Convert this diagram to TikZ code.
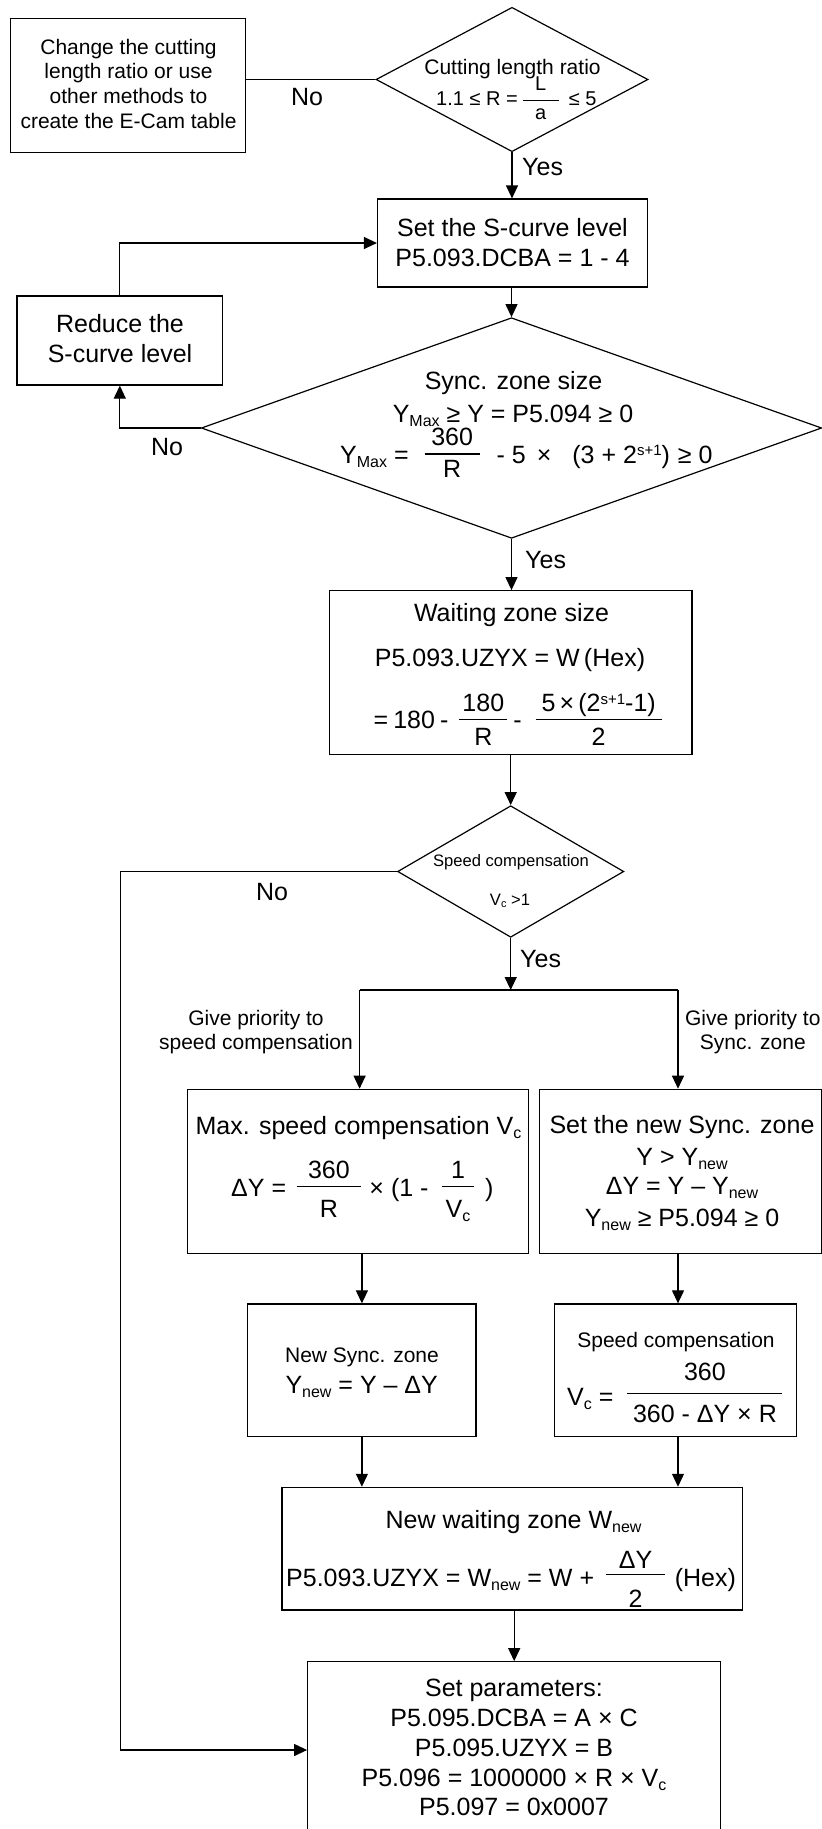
\documentclass[tikz,border=0pt]{standalone}
\usepackage{fontspec}
\setmainfont{Liberation Sans}
\usetikzlibrary{shapes.geometric,arrows.meta}

\newlength\frA \newlength\frB \newlength\frR
\setlength\frA{7pt}\setlength\frB{10pt}\setlength\frR{9pt}
\newsavebox\frnum \newsavebox\frden
\newcommand\frset[3]{\setlength\frR{#1}\setlength\frA{#2}\setlength\frB{#3}}
\newcommand\fr[3]{%
  \sbox\frnum{#2}\sbox\frden{#3}%
  \raisebox{\frR}{%
    \rlap{\makebox[#1]{\raisebox{\frA}{\usebox\frnum}}}%
    \rlap{\makebox[#1]{\raisebox{\dimexpr-\frB-\ht\frden\relax}{\usebox\frden}}}%
    \rule[-0.6pt]{#1}{1.2pt}}}
\newcommand\sbx[2][16]{\raisebox{-0.16em}{\fontsize{#1}{#1}\selectfont #2}}
\newcommand\spx[2][15]{\raisebox{0.3em}{\fontsize{#1}{#1}\selectfont #2}}

\tikzset{
  box/.style={draw, rectangle, line width=1.2pt, inner sep=0pt},
  dia/.style={draw, diamond, line width=1.2pt, inner sep=0pt},
  txt/.style={inner sep=0pt, anchor=base},
  fL/.style={font=\fontsize{25}{30}\selectfont},
  fM/.style={font=\fontsize{21}{25}\selectfont},
  fS/.style={font=\fontsize{16.6}{20}\selectfont},
  conn/.style={line width=1.2pt},
  arr/.style={conn, -{Triangle[length=13pt,width=12pt]}}
}

\begin{document}
\begin{tikzpicture}[x=1pt,y=-1pt]
\useasboundingbox (0,0) rectangle (822,1829);
\fill[white] (0,0) rectangle (822,1829);
\clip (0,0) rectangle (822,1829);

% ---------- shapes ----------
\node[box, minimum width=235.2pt, minimum height=134pt] (b0) at (128.1,85.3) {};
\node[dia, minimum width=272pt, minimum height=144.4pt] (d1) at (512,79.5) {};
\node[box, minimum width=270pt, minimum height=88pt] (b1) at (512.5,243) {};
\node[box, minimum width=205.6pt, minimum height=89pt] (b2) at (119.8,340.5) {};
\node[dia, minimum width=620.4pt, minimum height=220.6pt] (d2) at (511.5,428) {};
\node[box, minimum width=362.3pt, minimum height=163.6pt] (b3) at (510.9,672.5) {};
\node[dia, minimum width=226.2pt, minimum height=131.6pt] (d3) at (510.7,871.5) {};
\node[box, minimum width=341.2pt, minimum height=164.4pt] (b4) at (358,1171.5) {};
\node[box, minimum width=281.5pt, minimum height=164.4pt] (b5) at (680.5,1171.5) {};
\node[box, minimum width=228.2pt, minimum height=132.7pt] (b6) at (361.9,1370.3) {};
\node[box, minimum width=242pt, minimum height=132.7pt] (b7) at (675.3,1370.3) {};
\node[box, minimum width=460.4pt, minimum height=122.7pt] (b8) at (512.1,1548.7) {};
\node[box, minimum width=413pt, minimum height=183.3pt] (b9) at (514.2,1753.4) {};

% ---------- texts ----------
\node[txt,fM] (t0a) at (128.5,54) {Change the cutting};
\node[txt,fM] (t0b) at (128.5,78.8) {length ratio or use};
\node[txt,fM] (t0c) at (128.5,103.6) {other methods to};
\node[txt,fM] (t0d) at (128.5,128.3) {create the E-Cam table};

\node[txt,fM] (t1a) at (512.5,74) {Cutting length ratio};
\node[txt,font=\fontsize{20}{24}\selectfont,anchor=base west] (t1b) at (436,105.7)
  {\frset{5pt}{10pt}{8pt}1.1 ≤ R =\hspace{5pt}\fr{36pt}{L}{a}\hspace{10pt}≤ 5};

\node[txt,fL] (t2a) at (512.5,236.7) {Set the S-curve level};
\node[txt,fL] (t2b) at (512.5,266) {P5.093.DCBA = 1 - 4};

\node[txt,fL] (t3a) at (120,332.7) {Reduce the};
\node[txt,fL] (t3b) at (120,362.3) {S-curve level};

\node[txt,fL] (t4a) at (513.5,389.3) {Sync. zone size};
\node[txt,fL] (t4b) at (513,422.3) {Y\sbx{Max} ≥ Y = P5.094 ≥ 0};
\node[txt,fL,anchor=base west] (t4c) at (340,463)
  {\frset{9pt}{8.3pt}{6pt}Y\sbx{Max} =\hspace{16pt}\fr{55pt}{360}{R}\hspace{17pt}- 5\hspace{11pt}×\hspace{21pt}(3 + 2\spx{s+1})\hspace{8pt}≥ 0};

\node[txt,fL] (t5a) at (511.5,621) {Waiting zone size};
\node[txt,fL] (t5b) at (510,666.7) {P5.093.UZYX = W\,(Hex)};
\node[txt,fL,anchor=base west] (t5c) at (373.5,728.3)
  {\frset{9pt}{7.6pt}{9pt}=\hspace{5pt}180\hspace{5pt}-\hspace{11pt}\fr{48pt}{180}{R}\hspace{6pt}-\hspace{14pt}\fr{126pt}{5\,×\,(2\spx{s+1}-1)}{2}};

\node[txt,fS] (t6a) at (511,866) {Speed compensation};
\node[txt,fS] (t6b) at (510,905) {V\sbx[11]{c} >1};

\node[txt,fM] (t7a) at (256,1025) {Give priority to};
\node[txt,fM] (t7b) at (256,1049.3) {speed compensation};
\node[txt,fM] (t8a) at (752.8,1025) {Give priority to};
\node[txt,fM] (t8b) at (752.8,1049.3) {Sync. zone};

\node[txt,fL] (t9a) at (358.5,1134.3) {Max. speed compensation V\sbx{c}};
\node[txt,fL,anchor=base west] (t9b) at (231,1196.7)
  {\frset{10.5pt}{7.5pt}{14pt}ΔY =\hspace{10.8pt}\fr{64pt}{360}{R}\hspace{8.5pt}×\hspace{7pt}(1 -\hspace{13.4pt}\fr{32.3pt}{1}{V\sbx{c}}\hspace{11pt})};

\node[txt,fL] (t10a) at (682,1133.3) {Set the new Sync. zone};
\node[txt,fL] (t10b) at (682,1165.5) {Y > Y\sbx{new}};
\node[txt,fL] (t10c) at (682,1194) {ΔY = Y – Y\sbx{new}};
\node[txt,fL] (t10d) at (682,1226) {Y\sbx{new} ≥ P5.094 ≥ 0};

\node[txt,fM] (t11a) at (362,1362.3) {New Sync. zone};
\node[txt,fL] (t11b) at (361.7,1393.3) {Y\sbx{new} = Y – ΔY};

\node[txt,fM] (t12a) at (676,1347.3) {Speed compensation};
\node[txt,fL,anchor=base west] (t12b) at (567,1405)
  {\frset{11.7pt}{12.6pt}{12pt}V\sbx{c} =\hspace{14pt}\fr{155pt}{360}{360 - ΔY × R}};

\node[txt,fL] (t13a) at (513.6,1528.3) {New waiting zone W\sbx{new}};
\node[txt,fL,anchor=base west] (t13b) at (286,1586)
  {\frset{11.4pt}{6pt}{15pt}P5.093.UZYX = W\sbx{new} = W +\hspace{12pt}\fr{59pt}{ΔY}{2}\hspace{9.7pt}(Hex)};

\node[txt,fL] (t14a) at (514,1696) {Set parameters:};
\node[txt,fL] (t14b) at (514,1726) {P5.095.DCBA = A × C};
\node[txt,fL] (t14c) at (514,1756) {P5.095.UZYX = B};
\node[txt,fL] (t14d) at (514,1786.3) {P5.096 = 1000000 × R × V\sbx{c}};
\node[txt,fL] (t14e) at (514,1815.5) {P5.097 = 0x0007};

% ---------- labels ----------
\node[inner sep=0pt,fL] (l1) at (307,96.7) {No};
\node[inner sep=0pt,fL,anchor=west] (l2) at (522,167) {Yes};
\node[inner sep=0pt,fL] (l3) at (167,446.7) {No};
\node[inner sep=0pt,fL,anchor=west] (l4) at (525,560.5) {Yes};
\node[inner sep=0pt,fL] (l5) at (272,892.3) {No};
\node[inner sep=0pt,fL,anchor=west] (l6) at (520,958.7) {Yes};

% ---------- connectors ----------
\coordinate (j) at (510.7,990);
\coordinate (jl) at (359.6,990);
\coordinate (jr) at (678,990);
\coordinate (c3) at (120.7,1750);

\draw[conn] (d1.west) -- (d1.west -| b0.east);
\draw[arr] (d1.south) -- (d1.south |- b1.north);
\draw[arr] (b1.south -| d2.north) -- (d2.north);
\draw[arr] (d2.west) -| (b2.south);
\draw[arr] (b2.north) |- (b1.west);
\draw[arr] (d2.south) -- (d2.south |- b3.north);
\draw[arr] (b3.south -| d3.north) -- (d3.north);
\draw[arr] (d3.west) -| (c3) -- (c3 -| b9.west);
\draw[arr] (d3.south) -- (j);
\draw[conn] (jl) -- (jr);
\draw[arr] (jl) -- (jl |- b4.north);
\draw[arr] (jr) -- (jr |- b5.north);
\draw[arr] (b6.north |- b4.south) -- (b6.north);
\draw[arr] (jr |- b5.south) -- (jr |- b7.north);
\draw[arr] (b6.south) -- (b6.south |- b8.north);
\draw[arr] (jr |- b7.south) -- (jr |- b8.north);
\draw[arr] (b9.north |- b8.south) -- (b9.north);
\end{tikzpicture}
\end{document}
